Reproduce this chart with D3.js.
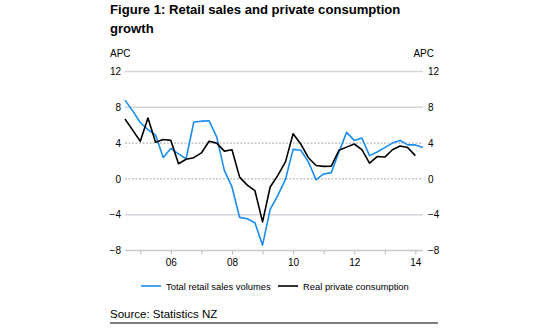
<!DOCTYPE html>
<html>
<head>
<meta charset="utf-8">
<script src="https://cdn.jsdelivr.net/npm/d3@7"></script>
<style>
  body { margin: 0; background: #fff; }
  svg { display: block; font-family: "Liberation Sans", Arial, sans-serif; }
</style>
</head>
<body>
<div id="chart"></div>
<script>

// quarterly series, Sep 2004 quarter onwards (annual % change)
var startYear = 2004.5;

var retailSales = [8.8, 7.6, 6.3, 5.5, 4.9, 2.4, 3.4, 2.8, 2.25, 6.35,
    6.45, 6.5, 4.7, 0.95, -0.9, -4.3, -4.45, -4.9, -7.4, -3.4,
    -1.85, -0.05, 3.3, 3.2, 1.9, -0.1, 0.55, 0.7, 3.0, 5.2,
    4.3, 4.56, 2.6, 3.0, 3.5, 4.0, 4.3, 3.8, 3.8, 3.5];

var privateConsumption = [6.7, 5.45, 4.2, 6.8, 4.1, 4.4, 4.3, 1.7, 2.2, 2.37,
    2.9, 4.2, 4.0, 3.1, 3.26, 0.2, -0.7, -1.3, -4.8, -0.9,
    0.4, 1.9, 5.05, 3.9, 2.37, 1.5, 1.4, 1.43, 3.2, 3.55,
    3.9, 3.26, 1.77, 2.5, 2.44, 3.26, 3.67, 3.5, 2.6];

var yTicks = [12, 8, 4, 0, -4, -8];
var dashedTicks = [4, 0];
var xTicks = [2005, 2006, 2007, 2008, 2009, 2010, 2011, 2012, 2013, 2014];
var xLabels = { 2006: "06", 2008: "08", 2010: "10", 2012: "12", 2014: "14" };

var seriesNames = ["Total retail sales volumes", "Real private consumption"];
var seriesColors = ["#1a8cf0", "#000000"];

var width = 550, height = 329;
var plotLeft = 125, plotRight = 423, plotTop = 71.5, plotBottom = 250.5;

var svg = d3.select("#chart").append("svg")
    .attr("width", width)
    .attr("height", height);

var x = d3.scaleLinear()
    .domain([startYear, startYear + (retailSales.length - 1) / 4])
    .range([plotLeft, plotRight]);

var y = d3.scaleLinear()
    .domain([-8, 12])
    .range([plotBottom, plotTop]);

// title
var title = svg.append("text")
    .attr("x", 110)
    .attr("y", 14)
    .attr("font-size", "13.1px")
    .attr("font-weight", "bold")
    .attr("fill", "#000");
title.append("tspan").attr("x", 110).attr("dy", 0)
    .text("Figure 1: Retail sales and private consumption");
title.append("tspan").attr("x", 110).attr("dy", 18.5)
    .text("growth");

// unit labels
svg.append("text")
    .attr("x", 110).attr("y", 57)
    .attr("font-size", "10px")
    .text("APC");
svg.append("text")
    .attr("x", 434).attr("y", 57)
    .attr("text-anchor", "end")
    .attr("font-size", "10px")
    .text("APC");

// horizontal grid
svg.append("g")
    .selectAll("line")
    .data(yTicks.filter(function(d) { return d !== -8; }))
    .enter().append("line")
    .attr("x1", plotLeft)
    .attr("x2", plotRight)
    .attr("y1", function(d) { return y(d); })
    .attr("y2", function(d) { return y(d); })
    .attr("stroke", function(d) { return dashedTicks.indexOf(d) >= 0 ? "#a8a8a8" : "#d4d4dc"; })
    .attr("stroke-width", function(d) { return dashedTicks.indexOf(d) >= 0 ? 1 : 1.6; })
    .attr("stroke-dasharray", function(d) { return dashedTicks.indexOf(d) >= 0 ? "2,1.5" : null; });

// left & right value axes
var yLeft = d3.axisLeft(y).tickValues(yTicks).tickSize(0).tickPadding(4);
var yRight = d3.axisRight(y).tickValues(yTicks).tickSize(0).tickPadding(5);

svg.append("g")
    .attr("transform", "translate(" + plotLeft + ",0)")
    .call(yLeft)
    .call(function(g) { g.select(".domain").remove(); });

svg.append("g")
    .attr("transform", "translate(" + plotRight + ",0)")
    .call(yRight)
    .call(function(g) { g.select(".domain").remove(); });

// bottom axis with yearly ticks
var xAxis = d3.axisBottom(x)
    .tickValues(xTicks)
    .tickSize(4)
    .tickSizeOuter(0)
    .tickPadding(4)
    .tickFormat(function(d) { return xLabels[d] || ""; });

var xg = svg.append("g")
    .attr("transform", "translate(0," + plotBottom + ")")
    .call(xAxis);
xg.select(".domain")
    .attr("d", "M" + plotLeft + ",0H" + plotRight)
    .attr("stroke", "#c8c8d0")
    .attr("stroke-width", 1.6);
xg.selectAll(".tick line").attr("stroke", "#b8b8c0");

svg.selectAll(".tick text")
    .attr("font-size", "10px")
    .attr("font-family", "Liberation Sans, Arial, sans-serif")
    .attr("fill", "#000");

// series lines
var line = d3.line()
    .x(function(d, i) { return x(startYear + i / 4); })
    .y(function(d) { return y(d); });

[retailSales, privateConsumption].forEach(function(series, k) {
    svg.append("path")
        .datum(series)
        .attr("fill", "none")
        .attr("stroke", seriesColors[k])
        .attr("stroke-width", 1.6)
        .attr("stroke-linejoin", "round")
        .attr("d", line);
});

// legend
var legendItems = [
    { x: 141, text: seriesNames[0], color: seriesColors[0] },
    { x: 278, text: seriesNames[1], color: seriesColors[1] }
];

var legend = svg.append("g").selectAll("g")
    .data(legendItems)
    .enter().append("g")
    .attr("transform", function(d) { return "translate(" + d.x + ",286)"; });

legend.append("line")
    .attr("x1", 0).attr("x2", 20)
    .attr("stroke", function(d) { return d.color; })
    .attr("stroke-width", 1.6);

legend.append("text")
    .attr("x", 25)
    .attr("y", 3.5)
    .attr("font-size", "9.4px")
    .text(function(d) { return d.text; });

// source note
svg.append("text")
    .attr("x", 110).attr("y", 318)
    .attr("font-size", "11.5px")
    .text("Source: Statistics NZ");

svg.append("line")
    .attr("x1", 110).attr("x2", 438)
    .attr("y1", 323).attr("y2", 323)
    .attr("stroke", "#000")
    .attr("stroke-width", 1.2);

</script>
</body>
</html>
